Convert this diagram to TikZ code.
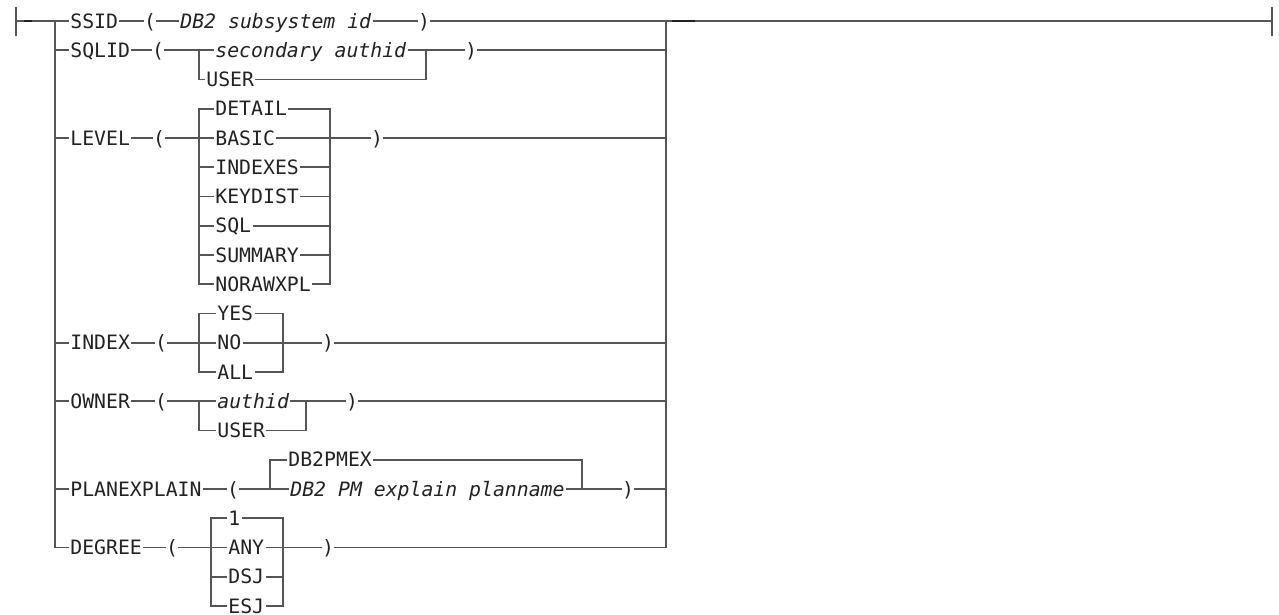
\documentclass[tikz,border=0pt]{standalone}
\usepackage{fontspec}
\setmonofont{DejaVu Sans Mono}
\usepackage{xcolor}
\definecolor{railgray}{HTML}{555555}
\definecolor{inkgray}{HTML}{222222}
\tikzset{
  rl/.style={draw=railgray,line width=0.9pt},
  br/.style={draw=railgray,line width=1.1pt},
  mk/.style={draw=inkgray,line width=1.3pt},
  kw/.style={anchor=west,inner xsep=0.5pt,inner ysep=0pt,text height=7.2pt,text depth=0pt,text=inkgray,font=\ttfamily\fontsize{9.9}{12}\selectfont},
  var/.style={kw,font=\ttfamily\itshape\fontsize{9.9}{12}\selectfont},
  pr/.style={kw,anchor=center,inner xsep=0pt}
}

\begin{document}
\begin{tikzpicture}[x=0.5pt,y=-0.5pt]
\useasboundingbox (0,0) rectangle (1279,615);
% ends and trunks
\coordinate (beg) at (16,21);
\coordinate (fin) at (1272,21);
\coordinate (lt) at (55,21);
\coordinate (rt) at (666,21);

% SSID
\node[kw] (ssid) at (69,21) {SSID};
\node[pr] (ssidL) at (150,21) {(};
\node[var] (ssidv) at (179,21) {DB2 subsystem id};
\node[pr] (ssidR) at (424,21) {)};
\draw[rl] (ssid.east) -- (ssidL.west);
\draw[rl] (ssidL.east) -- (ssidv.west);
\draw[rl] (ssidv.east) -- (ssidR.west);

% SQLID
\node[kw] (sqlid) at (69,50.25) {SQLID};
\node[pr] (sqlidL) at (158,50.25) {(};
\node[var] (sqsec) at (214,50.25) {secondary authid};
\node[kw] (squser) at (205,79.5) {USER};
\node[pr] (sqlidR) at (471,50.25) {)};
\coordinate (q1) at (199,50.25);
\coordinate (q2) at (426,50.25);
\draw[rl] (sqlid.east) -- (sqlidL.west);
\draw[rl] (sqlidL.east) -- (sqsec.west);
\draw[rl] (sqsec.east) -- (sqlidR.west);
\draw[rl] (q1) |- (squser.west);
\draw[rl] (squser.east) -| (q2);

% LEVEL
\node[kw] (level) at (69,138) {LEVEL};
\node[pr] (levL) at (159,138) {(};
\foreach \n/\t [count=\i] in {detail/DETAIL,basic/BASIC,indexes/INDEXES,keydist/KEYDIST,sql/SQL,summary/SUMMARY,norawxpl/NORAWXPL}
  \node[kw] (\n) at (214,{79.5+29.25*\i}) {\t};
\node[pr] (levR) at (377,138) {)};
\coordinate (lvA) at (199,284.25);
\coordinate (lvB) at (330,284.25);
\draw[rl] (level.east) -- (levL.west);
\draw[rl] (levL.east) -- (basic.west);
\draw[rl] (basic.east) -- (levR.west);
\draw[rl] (detail.west) -| (lvA) -- (norawxpl.west);
\draw[rl] (detail.east) -| (lvB) -- (norawxpl.east);
\foreach \n in {indexes,keydist,sql,summary}{
  \draw[rl] (\n.west -| lvA) -- (\n.west);
  \draw[rl] (\n.east) -- (\n.east -| lvB);
}

% INDEX
\node[kw] (index) at (69,342.75) {INDEX};
\node[pr] (idxL) at (161,342.75) {(};
\node[kw] (ixyes) at (216,313.5) {YES};
\node[kw] (ixno) at (216,342.75) {NO};
\node[kw] (ixall) at (216,372) {ALL};
\node[pr] (idxR) at (328,342.75) {)};
\coordinate (ixA) at (199,372);
\coordinate (ixB) at (283,372);
\draw[rl] (index.east) -- (idxL.west);
\draw[rl] (idxL.east) -- (ixno.west);
\draw[rl] (ixno.east) -- (idxR.west);
\draw[rl] (ixyes.west) -| (ixA) -- (ixall.west);
\draw[rl] (ixyes.east) -| (ixB) -- (ixall.east);

% OWNER
\node[kw] (owner) at (69,401.25) {OWNER};
\node[pr] (ownL) at (161,401.25) {(};
\node[var] (owauth) at (216,401.25) {authid};
\node[kw] (owuser) at (216,430.5) {USER};
\node[pr] (ownR) at (352,401.25) {)};
\coordinate (owA) at (199,401.25);
\coordinate (owB) at (306,401.25);
\draw[rl] (owner.east) -- (ownL.west);
\draw[rl] (ownL.east) -- (owauth.west);
\draw[rl] (owauth.east) -- (ownR.west);
\draw[rl] (owA) |- (owuser.west);
\draw[rl] (owuser.east) -| (owB);

% PLANEXPLAIN
\node[kw] (planexplain) at (69,489) {PLANEXPLAIN};
\node[pr] (plnL) at (233,489) {(};
\node[kw] (pldef) at (287,459.75) {DB2PMEX};
\node[var] (plname) at (289,489) {DB2 PM explain planname};
\node[pr] (plnR) at (628,489) {)};
\coordinate (plA) at (270,489);
\coordinate (plB) at (582,489);
\draw[rl] (planexplain.east) -- (plnL.west);
\draw[rl] (plnL.east) -- (plname.west);
\draw[rl] (plname.east) -- (plnR.west);
\draw[rl] (pldef.west) -| (plA);
\draw[rl] (pldef.east) -| (plB);

% DEGREE
\node[kw] (degree) at (69,547.5) {DEGREE};
\node[pr] (degL) at (172,547.5) {(};
\node[kw] (dgone) at (227,518.25) {1};
\node[kw] (dgany) at (227,547.5) {ANY};
\node[kw] (dgdsj) at (227,576.75) {DSJ};
\node[kw] (dgesj) at (227,606) {ESJ};
\node[pr] (degR) at (328,547.5) {)};
\coordinate (dgA) at (211,606);
\coordinate (dgB) at (283,606);
\draw[rl] (degree.east) -- (degL.west);
\draw[rl] (degL.east) -- (dgany.west);
\draw[rl] (dgany.east) -- (degR.west);
\draw[rl] (dgone.west) -| (dgA) -- (dgesj.west);
\draw[rl] (dgone.east) -| (dgB) -- (dgesj.east);
\draw[rl] (dgdsj.west -| dgA) -- (dgdsj.west);
\draw[rl] (dgdsj.east) -- (dgdsj.east -| dgB);

% trunks
\draw[rl] (beg) -- (ssid.west);
\draw[rl] (lt) |- (degree.west);
\foreach \n in {sqlid,level,index,owner,planexplain}
  \draw[rl] (\n.west -| lt) -- (\n.west);
\draw[rl] (ssidR.east) -- (fin);
\draw[rl] (degR.east) -| (rt);
\foreach \n in {sqlidR,levR,idxR,ownR,plnR}
  \draw[rl] (\n.east) -- (\n.east -| rt);
\draw[br] (16,7) -- (16,36);
\draw[br] (1272,7) -- (1272,36);
\draw[mk] (24,21) -- (32,21);
\draw[mk] (672,21) -- (695,21);
\end{tikzpicture}
\end{document}
